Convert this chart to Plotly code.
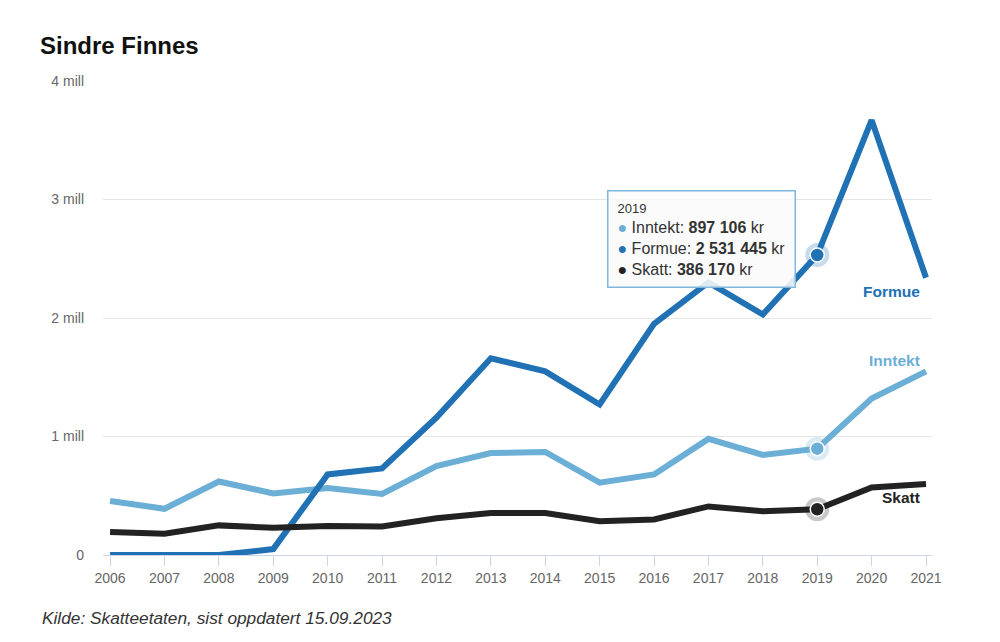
import plotly.graph_objects as go

years = list(range(2006, 2022))
formue = [0, 0, 0, 50000, 680000, 730000, 1160000, 1660000, 1550000, 1270000,
          1950000, 2300000, 2030000, 2531445, 3670000, 2340000]
inntekt = [456000, 390000, 620000, 520000, 565000, 515000, 750000, 860000, 870000, 610000,
           680000, 980000, 845000, 897106, 1320000, 1550000]
skatt = [195000, 180000, 250000, 230000, 245000, 240000, 310000, 355000, 355000, 285000,
         300000, 410000, 370000, 386170, 570000, 600000]

y_ticks = [0, 1000000, 2000000, 3000000, 4000000]
y_tick_labels = ["0", "1 mill", "2 mill", "3 mill", "4 mill"]

series = [
    ("Inntekt", inntekt, "#6baed6"),
    ("Formue", formue, "#2171b5"),
    ("Skatt", skatt, "#222222"),
]
hover_year = 2019
FONT = "Liberation Sans, Arial, sans-serif"

# page offset (body margin of 8px)
L, R, T, B = 95, 76, 73, 95
PW = 1000 - L - R
PH = 642 - T - B

fig = go.Figure()
for name, vals, col in series:
    fig.add_trace(go.Scatter(x=years, y=vals, mode="lines", name=name,
                             line=dict(color=col, width=6), hoverinfo="skip"))

hi = years.index(hover_year)
for name, vals, col in series:
    fig.add_trace(go.Scatter(x=[hover_year], y=[vals[hi]], mode="markers",
                             marker=dict(size=24, color=col, opacity=0.25),
                             hoverinfo="skip", showlegend=False))
    fig.add_trace(go.Scatter(x=[hover_year], y=[vals[hi]], mode="markers",
                             marker=dict(size=14, color=col, line=dict(color="white", width=1.5)),
                             hoverinfo="skip", showlegend=False))

# end labels
label_shift = {"Formue": -14, "Inntekt": 11, "Skatt": -14}
for name, vals, col in series:
    fig.add_annotation(x=years[-1], y=vals[-1], xref="x", yref="y", text="<b>%s</b>" % name,
                       showarrow=False, xanchor="right", yanchor="middle",
                       xshift=-4, yshift=label_shift[name],
                       font=dict(family=FONT, size=15.5, color=col))

def fmt(v):
    return "{:,}".format(v).replace(",", " ")

lines = ["<span style='font-size:13px'>%d</span>" % hover_year]
for name, vals, col in series:
    lines.append("<span style='color:%s'>●</span> %s: <b>%s</b> kr" % (col, name, fmt(vals[hi])))
fig.add_annotation(x=(607 - 103) / 829, y=(555 - 190) / 474, xref="paper", yref="paper",
                   xanchor="left", yanchor="top",
                   text="<br>".join(lines), align="left", showarrow=False,
                   bgcolor="rgba(250,250,250,0.88)", bordercolor="#7fb8dc", borderwidth=1.5,
                   borderpad=9, font=dict(family=FONT, size=16, color="#333333"))

fig.update_layout(
    width=1000, height=642,
    paper_bgcolor="white", plot_bgcolor="white",
    margin=dict(l=L, r=R, t=T, b=B),
    showlegend=False,
    font=dict(family=FONT, color="#666666", size=14),
    title=dict(text="<b>Sindre Finnes</b>", x=32 / 1000, xanchor="left", y=1 - 38 / 642, yanchor="middle",
               font=dict(family=FONT, size=24, color="#111111")),
    xaxis=dict(range=[2005.87, 2021.11], tickvals=years, ticktext=[str(y) for y in years],
               showgrid=False, showline=True, linecolor="#ccd6eb", linewidth=1,
               ticks="outside", ticklen=10, tickcolor="#ccd6eb", zeroline=False,
               tickfont=dict(size=14, color="#666666")),
    yaxis=dict(range=[0, 4000000], tickvals=y_ticks, ticktext=y_tick_labels,
               showgrid=True, gridcolor="#e6e6e6", gridwidth=1, zeroline=False,
               showline=False, ticks="", ticklabelstandoff=18,
               tickfont=dict(size=14, color="#666666")),
)

fig.add_annotation(x=(32 - L) / PW, y=-(610 - (642 - B)) / PH, xref="paper", yref="paper",
                   xanchor="left", yanchor="middle", showarrow=False,
                   text="<i>Kilde: Skatteetaten, sist oppdatert 15.09.2023</i>",
                   font=dict(family=FONT, size=17.3, color="#333333"))

fig.write_html("out.html")
